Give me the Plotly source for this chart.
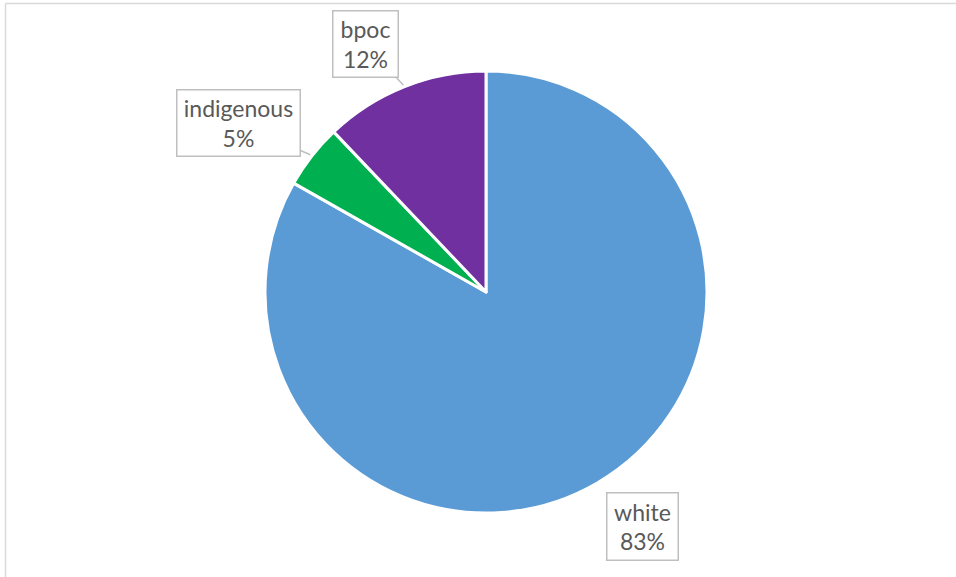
import math
import plotly.graph_objects as go

labels = ["white", "indigenous", "bpoc"]
values = [83.2, 4.7, 12.1]
colors = ["#5B9BD5", "#00B050", "#7030A0"]

W, H = 956, 577
CX, CY, R = 486, 292, 221  # pie centre/radius in px

fig = go.Figure(go.Pie(
    labels=labels, values=values, sort=False, direction="clockwise", rotation=0,
    marker=dict(colors=colors, line=dict(color="white", width=3)),
    textinfo="none", showlegend=False,
    domain=dict(x=[(CX - R) / W, (CX + R) / W], y=[1 - (CY + R) / H, 1 - (CY - R) / H]),
))

# callout label offsets (box centre relative to leader tip, px) and box sizes
offsets = {"white": (44, 42), "indigenous": (-72, -32), "bpoc": (-38, -41)}
boxes = {"white": (70, 66), "indigenous": (122, 65), "bpoc": (64, 65)}

total = sum(values)
cum = 0.0
for lab, v in zip(labels, values):
    mid = (cum + v / 2) / total * 2 * math.pi
    cum += v
    rr = R + 2
    px = CX + rr * math.sin(mid)
    py = CY - rr * math.cos(mid)
    ax, ay = offsets[lab]
    bw, bh = boxes[lab]
    fig.add_annotation(
        x=px / W, y=1 - py / H, xref="paper", yref="paper",
        text=f"{lab}<br>{round(v / total * 100)}%",
        showarrow=True, arrowhead=0, arrowwidth=1.5, arrowcolor="#BFBFBF",
        ax=ax, ay=ay, standoff=0,
        bordercolor="#BFBFBF", borderwidth=1.5, bgcolor="white", borderpad=0,
        width=bw, height=bh,
        font=dict(family="Lato", size=23, color="#595959"),
    )

fig.update_layout(
    width=W, height=H, margin=dict(l=0, r=0, t=0, b=0),
    paper_bgcolor="white", plot_bgcolor="white",
    shapes=[
        dict(type="line", xref="paper", yref="paper", x0=5.5 / W, x1=1.02, y0=1 - 3.5 / H, y1=1 - 3.5 / H,
             line=dict(color="#D9D9D9", width=1.5)),
        dict(type="line", xref="paper", yref="paper", x0=5.5 / W, x1=5.5 / W, y0=1 - 3.5 / H, y1=-0.02,
             line=dict(color="#D9D9D9", width=1.5)),
    ],
)

fig.write_html("out.html", config={"displayModeBar": False},
               post_script="document.body.style.margin='0';")
